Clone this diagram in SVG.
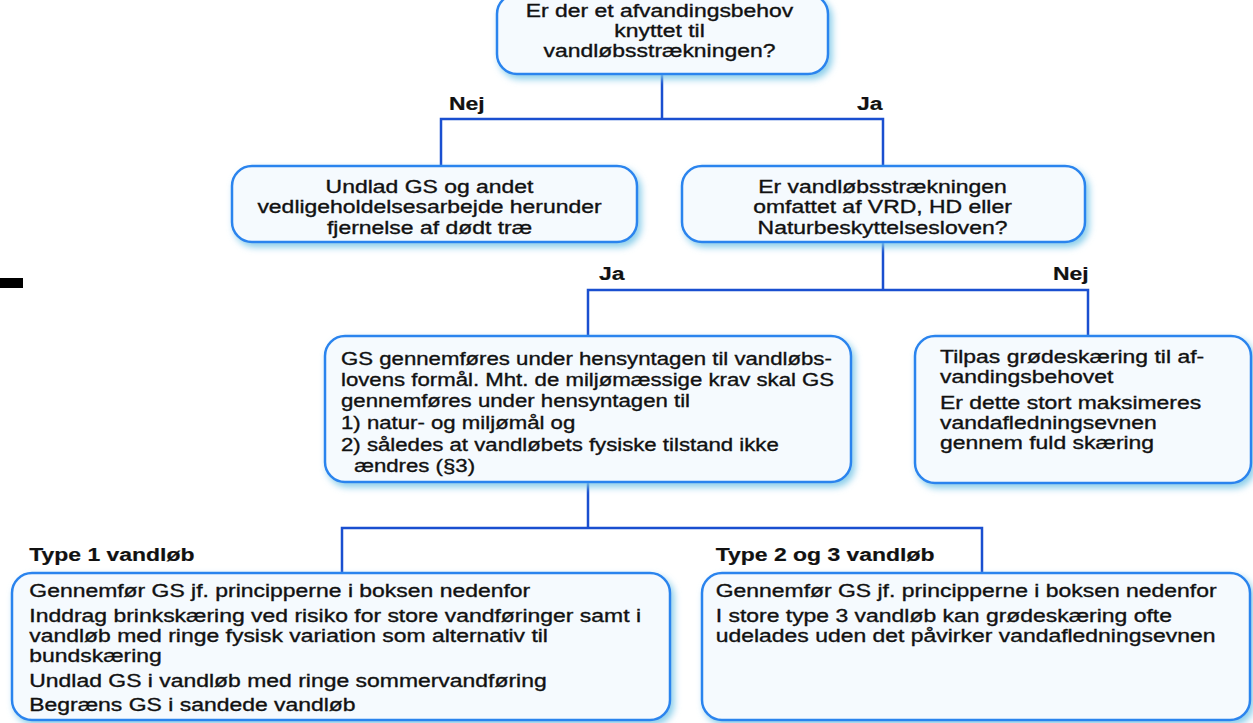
<svg xmlns="http://www.w3.org/2000/svg" width="1253" height="723" viewBox="0 0 1253 723">
<defs>
<filter id="glow" x="-5%" y="-10%" width="112%" height="130%">
<feGaussianBlur in="SourceAlpha" stdDeviation="3.5" result="b"/>
<feOffset in="b" dx="3" dy="4" result="o"/>
<feFlood flood-color="#7cc8e8" flood-opacity="0.9"/>
<feComposite in2="o" operator="in" result="s"/>
<feMerge><feMergeNode in="s"/><feMergeNode in="SourceGraphic"/></feMerge>
</filter>
</defs>
<style>
.box{fill:#f5fafe;stroke:#2b84ee;stroke-width:2.5;filter:url(#glow)}
.conn{fill:none;stroke:#1a4fd0;stroke-width:2.5}
.t{font-family:"Liberation Sans",Arial,sans-serif;font-size:18.5px;fill:#111;stroke:#111;stroke-width:0.35px}
.b{font-weight:bold;stroke-width:0.2px}
.c{text-anchor:middle}
</style>
<rect x="0" y="278" width="23" height="10" fill="#000"/>
<g id="connectors" class="conn">
<path d="M662 74V119M441 166V119H883V166"/>
<path d="M883 242V290M588 336V290H1088V336"/>
<path d="M588 482V528M342 573V528H982V573"/>
</g>
<g id="labels" class="t b">
<text transform="translate(449 0) scale(1.24 1)" y="110">Nej</text>
<text transform="translate(857 0) scale(1.24 1)" y="110">Ja</text>
<text transform="translate(599 0) scale(1.24 1)" y="280">Ja</text>
<text transform="translate(1053 0) scale(1.24 1)" y="280">Nej</text>
<text transform="translate(29.3 0) scale(1.24 1)" y="561.5">Type 1 vandløb</text>
<text transform="translate(715.7 0) scale(1.24 1)" y="561.5">Type 2 og 3 vandløb</text>
</g>
<g id="n-top">
<rect class="box" x="497" y="-6" width="331" height="80" rx="20"/>
<g class="t c" transform="translate(659.5 0) scale(1.24 1)">
<text x="0" y="17.3">Er der et afvandingsbehov</text>
<text x="0" y="37.3">knyttet til</text>
<text x="0" y="57.3">vandløbsstrækningen?</text>
</g>
</g>
<g id="n-undlad">
<rect class="box" x="232" y="166" width="405" height="76" rx="20"/>
<g class="t c" transform="translate(429.5 0) scale(1.24 1)">
<text x="0" y="193">Undlad GS og andet</text>
<text x="0" y="213.5">vedligeholdelsesarbejde herunder</text>
<text x="0" y="234">fjernelse af dødt træ</text>
</g>
</g>
<g id="n-vrd">
<rect class="box" x="682" y="166" width="403" height="76" rx="20"/>
<g class="t c" transform="translate(882.5 0) scale(1.24 1)">
<text x="0" y="193">Er vandløbsstrækningen</text>
<text x="0" y="213.5">omfattet af VRD, HD eller</text>
<text x="0" y="234">Naturbeskyttelsesloven?</text>
</g>
</g>
<g id="n-gs">
<rect class="box" x="325" y="336" width="526" height="146" rx="20"/>
<g class="t" transform="translate(341 0) scale(1.2 1)">
<text x="0" y="365">GS gennemføres under hensyntagen til vandløbs-</text>
<text x="0" y="386">lovens formål. Mht. de miljømæssige krav skal GS</text>
<text x="0" y="407">gennemføres under hensyntagen til</text>
<text x="0" y="429">1) natur- og miljømål og</text>
<text x="0" y="451">2) således at vandløbets fysiske tilstand ikke</text>
<text x="11" y="472">ændres (§3)</text>
</g>
</g>
<g id="n-tilpas">
<rect class="box" x="915" y="336" width="336" height="147" rx="20"/>
<g class="t" transform="translate(940 0) scale(1.24 1)">
<text x="0" y="363">Tilpas grødeskæring til af-</text>
<text x="0" y="383">vandingsbehovet</text>
<text x="0" y="409">Er dette stort maksimeres</text>
<text x="0" y="429">vandafledningsevnen</text>
<text x="0" y="449">gennem fuld skæring</text>
</g>
</g>
<g id="n-type1">
<rect class="box" x="12" y="573" width="658" height="147" rx="20"/>
<g class="t" transform="translate(29.3 0) scale(1.24 1)">
<text x="0" y="597">Gennemfør GS jf. principperne i boksen nedenfor</text>
<text x="0" y="622">Inddrag brinkskæring ved risiko for store vandføringer samt i</text>
<text x="0" y="642">vandløb med ringe fysisk variation som alternativ til</text>
<text x="0" y="662">bundskæring</text>
<text x="0" y="687">Undlad GS i vandløb med ringe sommervandføring</text>
<text x="0" y="711">Begræns GS i sandede vandløb</text>
</g>
</g>
<g id="n-type23">
<rect class="box" x="702" y="573" width="548" height="147" rx="20"/>
<g class="t" transform="translate(715.7 0) scale(1.24 1)">
<text x="0" y="597">Gennemfør GS jf. principperne i boksen nedenfor</text>
<text x="0" y="622">I store type 3 vandløb kan grødeskæring ofte</text>
<text x="0" y="642">udelades uden det påvirker vandafledningsevnen</text>
</g>
</g>
</svg>
